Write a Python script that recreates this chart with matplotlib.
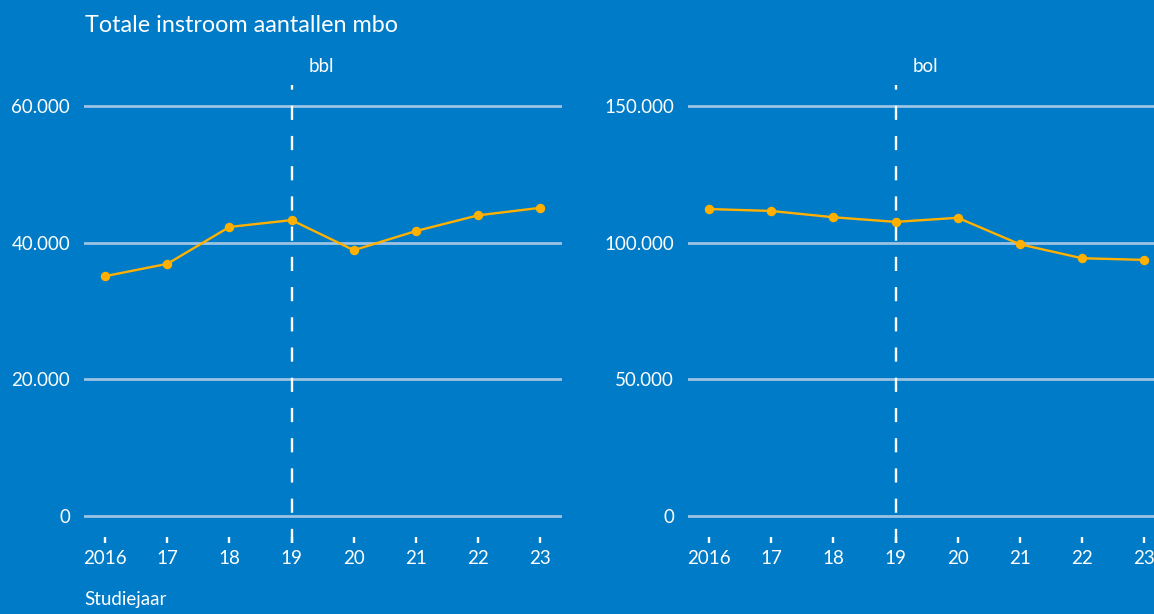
import numpy as np
import matplotlib.pyplot as plt

plt.rcParams['font.family'] = ['Lato', 'DejaVu Sans']

years = ['2016', '17', '18', '19', '20', '21', '22', '23']
bbl = [35100, 36900, 42300, 43300, 38900, 41700, 44000, 45100]
bol = [112300, 111600, 109300, 107600, 109100, 99400, 94300, 93700]
panels = ['bbl', 'bol']
yticks_bbl = [0, 20000, 40000, 60000]
yticks_bol = [0, 50000, 100000, 150000]

bg = '#007bc7'
grid_col = '#9cc3e3'
line_col = '#ffb000'
W, H = 1154, 614

fig = plt.figure(figsize=(W / 100, H / 100), dpi=100, facecolor=bg)

def fmt(v):
    return f"{v:,}".replace(',', '.')

def panel(left_px, values, ticks, label):
    # axes spans from y=85 px (top) to 543 px (bottom)
    ax = fig.add_axes([left_px / W, 1 - 543 / H, 478 / W, (543 - 85) / H])
    ax.set_facecolor(bg)
    top = ticks[-1]
    per_px = top / 410
    ax.set_ylim(-27 * per_px, top + 21 * per_px)
    x = np.arange(len(years))
    ax.set_xlim(-0.34, len(years) - 1 + 0.35)
    for t in ticks:
        ax.axhline(t, color=grid_col, lw=2.0, zorder=1)
    ax.axvline(3, color='white', lw=1.7, linestyle=(0, (6.0, 6.8)), zorder=2)
    ax.plot(x, values, color=line_col, lw=1.7, marker='o', ms=5.8, zorder=3)
    ax.set_yticks(ticks)
    ax.set_yticklabels([fmt(t) for t in ticks])
    ax.set_xticks(x)
    ax.set_xticklabels(years)
    ax.tick_params(axis='y', length=0, pad=10, labelsize=13.5, colors='white')
    ax.tick_params(axis='x', direction='in', length=4.5, width=1.7, pad=5,
                   labelsize=13.5, colors='white')
    for s in ax.spines.values():
        s.set_visible(False)
    ax.annotate(label, xy=(3, top + 21 * per_px), xytext=(12, 13),
                textcoords='offset points', color='white', fontsize=13.5,
                va='center', ha='left', annotation_clip=False)
    return ax

panel(84, bbl, yticks_bbl, panels[0])
panel(688, bol, yticks_bol, panels[1])

fig.text(85 / W, 1 - 25 / H, 'Totale instroom aantallen mbo', color='white',
         fontsize=16.8, va='center', ha='left')
fig.text(84 / W, 1 - 600 / H, 'Studiejaar', color='white', fontsize=13.5,
         va='center', ha='left')

fig.savefig('out.png', dpi=100, facecolor=bg)
